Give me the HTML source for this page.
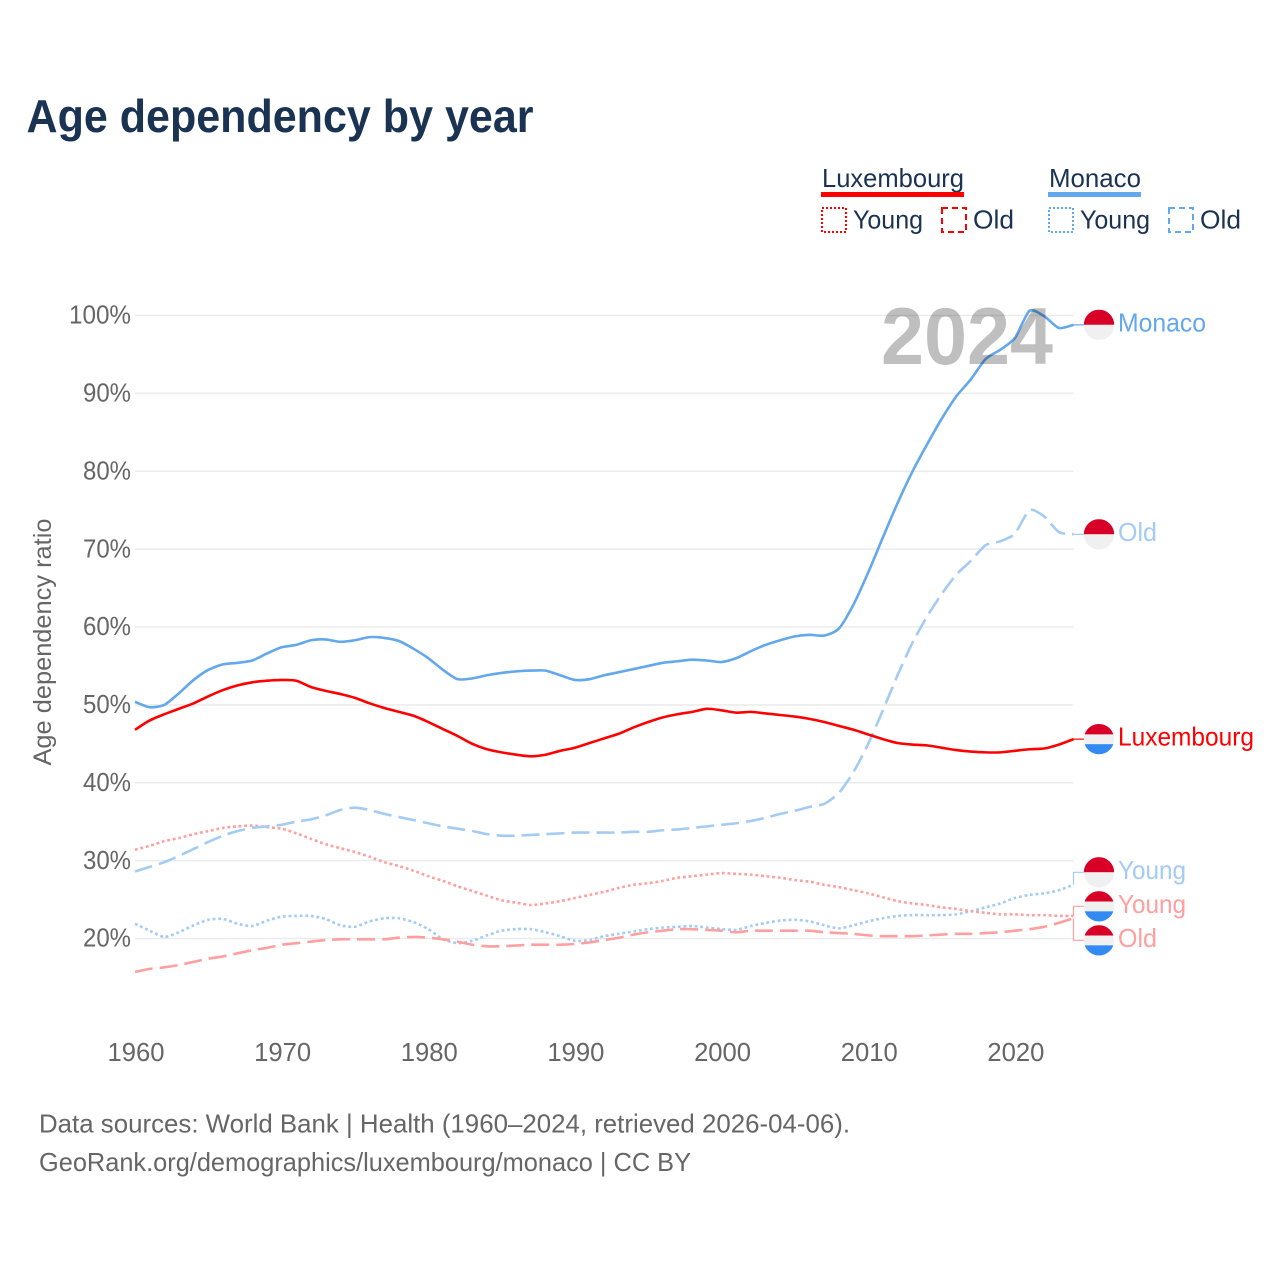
<!DOCTYPE html>
<html lang="en">
<head>
<meta charset="utf-8">
<title>Age dependency by year</title>
<style>
html,body{margin:0;padding:0;background:#fff;}
svg{display:block;}
text{font-family:"Liberation Sans",sans-serif;}
</style>
</head>
<body>
<svg id="chart" xmlns="http://www.w3.org/2000/svg" width="1280" height="1280" viewBox="0 0 1280 1280">
  <rect width="1280" height="1280" fill="#ffffff"/>
  <text x="26.5" y="132" font-size="46" font-weight="700" fill="#1a3352" textLength="507" lengthAdjust="spacingAndGlyphs">Age dependency by year</text>

  <g font-size="26" fill="#1a3352">
    <text x="822" y="187" textLength="142" lengthAdjust="spacingAndGlyphs">Luxembourg</text>
    <rect x="821" y="192" width="143" height="5" fill="#ff0000"/>
    <rect x="822" y="208" width="24" height="24" fill="none" stroke="#ff0000" stroke-width="2" stroke-dasharray="2 2"/>
    <text x="853" y="228.5" textLength="70" lengthAdjust="spacingAndGlyphs">Young</text>
    <rect x="942" y="208" width="24" height="24" fill="none" stroke="#ff0000" stroke-width="2" stroke-dasharray="6 4"/>
    <text x="973" y="228.5" textLength="41" lengthAdjust="spacingAndGlyphs">Old</text>
    <text x="1049" y="187" textLength="92" lengthAdjust="spacingAndGlyphs">Monaco</text>
    <rect x="1048" y="192" width="93" height="5" fill="#63a7ec"/>
    <rect x="1049" y="208" width="24" height="24" fill="none" stroke="#63a7ec" stroke-width="2" stroke-dasharray="2 2"/>
    <text x="1080" y="228.5" textLength="70" lengthAdjust="spacingAndGlyphs">Young</text>
    <rect x="1169" y="208" width="24" height="24" fill="none" stroke="#63a7ec" stroke-width="2" stroke-dasharray="6 4"/>
    <text x="1200" y="228.5" textLength="41" lengthAdjust="spacingAndGlyphs">Old</text>
  </g>

  <g id="grid"></g>
  <g id="yticks"></g>
  <g id="xticks"></g>
  <text transform="translate(51,642) rotate(-90)" text-anchor="middle" font-size="25" fill="#666666" textLength="247" lengthAdjust="spacingAndGlyphs">Age dependency ratio</text>
  <g id="series"></g>
  <g id="ends"></g>
  <text x="881" y="364" font-size="81" font-weight="700" fill="#000000" fill-opacity="0.25" textLength="172" lengthAdjust="spacingAndGlyphs">2024</text>

  <text x="39" y="1132.5" font-size="26" fill="#666666" textLength="811" lengthAdjust="spacingAndGlyphs">Data sources: World Bank | Health (1960–2024, retrieved 2026-04-06).</text>
  <text x="39" y="1171" font-size="26" fill="#666666" textLength="652" lengthAdjust="spacingAndGlyphs">GeoRank.org/demographics/luxembourg/monaco | CC BY</text>
</svg>
<script>
const startYear = 1960;
const xTickYears = [1960, 1970, 1980, 1990, 2000, 2010, 2020];
const yTickValues = [20, 30, 40, 50, 60, 70, 80, 90, 100];

const monacoTotal = [50.4,49.7,50.0,51.5,53.2,54.5,55.2,55.4,55.7,56.6,57.4,57.7,58.3,58.4,58.1,58.3,58.7,58.6,58.2,57.2,56.0,54.5,53.3,53.4,53.8,54.1,54.3,54.4,54.4,53.8,53.2,53.3,53.8,54.2,54.6,55.0,55.4,55.6,55.8,55.7,55.5,56.0,56.9,57.7,58.3,58.8,59.0,58.9,59.8,62.9,67.0,71.5,75.9,79.9,83.4,86.7,89.6,91.8,94.4,95.6,97.1,100.6,99.9,98.4,98.8];
const luxembourgTotal = [46.8,48.0,48.8,49.5,50.2,51.1,51.9,52.5,52.9,53.1,53.2,53.1,52.3,51.8,51.4,50.9,50.2,49.6,49.1,48.6,47.8,46.9,46.0,45.0,44.3,43.9,43.6,43.4,43.6,44.1,44.5,45.1,45.7,46.3,47.1,47.8,48.4,48.8,49.1,49.5,49.3,49.0,49.1,48.9,48.7,48.5,48.2,47.8,47.3,46.8,46.2,45.6,45.1,44.9,44.8,44.5,44.2,44.0,43.9,43.9,44.1,44.3,44.4,44.9,45.6];
const monacoOld = [28.6,29.2,29.8,30.6,31.5,32.4,33.2,33.8,34.2,34.4,34.6,35.0,35.3,35.8,36.5,36.8,36.5,36.0,35.6,35.2,34.8,34.4,34.1,33.8,33.4,33.2,33.2,33.3,33.4,33.5,33.6,33.6,33.6,33.6,33.7,33.7,33.9,34.0,34.2,34.4,34.6,34.8,35.1,35.5,36.0,36.4,36.9,37.3,38.7,41.4,45.0,49.3,53.8,57.9,61.3,64.2,66.7,68.5,70.5,71.0,72.0,75.0,74.2,72.2,71.9];
const monacoYoung = [21.9,21.0,20.2,20.8,21.7,22.4,22.5,21.9,21.6,22.3,22.8,22.9,22.9,22.5,21.7,21.5,22.2,22.6,22.6,22.1,21.2,19.9,19.4,19.7,20.4,21.0,21.2,21.2,20.8,20.3,19.7,19.8,20.3,20.6,20.9,21.2,21.4,21.5,21.6,21.4,21.2,21.1,21.6,22.0,22.3,22.4,22.2,21.7,21.3,21.7,22.2,22.6,22.9,23.0,23.0,23.0,23.1,23.5,24.0,24.5,25.2,25.6,25.8,26.2,26.9];
const luxembourgYoung = [31.4,31.9,32.5,32.9,33.4,33.8,34.2,34.4,34.5,34.3,34.1,33.5,32.8,32.1,31.6,31.1,30.5,29.8,29.3,28.7,28.0,27.4,26.7,26.1,25.5,24.9,24.6,24.3,24.5,24.8,25.2,25.6,26.0,26.5,26.9,27.1,27.4,27.8,28.0,28.2,28.4,28.3,28.2,28.0,27.8,27.5,27.3,26.9,26.6,26.2,25.8,25.3,24.8,24.5,24.3,24.0,23.8,23.5,23.3,23.1,23.1,23.0,23.0,22.9,22.9];
const luxembourgOld = [15.7,16.1,16.3,16.6,17.0,17.4,17.7,18.1,18.5,18.8,19.2,19.4,19.6,19.8,19.9,19.9,19.9,19.9,20.1,20.2,20.1,19.9,19.6,19.2,19.0,19.0,19.1,19.2,19.2,19.2,19.3,19.5,19.8,20.1,20.5,20.8,21.0,21.2,21.2,21.1,21.0,20.8,21.0,21.0,21.0,21.0,21.0,20.8,20.7,20.6,20.4,20.3,20.3,20.3,20.4,20.5,20.6,20.6,20.7,20.8,21.0,21.2,21.5,22.0,22.6];

const NS = 'http://www.w3.org/2000/svg';
function xScale(year) { return 135 + (year - 1960) * (1073.5 - 135) / 64; }
function yScale(v) { return 938.5 - (v - 20) * 7.7875; }
function mk(parent, tag, attrs, txt) {
  const el = document.createElementNS(NS, tag);
  for (const k in attrs) el.setAttribute(k, attrs[k]);
  if (txt !== undefined) el.textContent = txt;
  parent.appendChild(el);
  return el;
}
/* Lightly smoothed path through the data points (Catmull-Rom to Bezier). */
function smoothPath(values) {
  const pts = values.map(function (v, i) { return [xScale(startYear + i), yScale(v)]; });
  const k = 0.12;
  let d = 'M' + pts[0][0].toFixed(2) + ',' + pts[0][1].toFixed(2);
  for (let i = 0; i < pts.length - 1; i++) {
    const p0 = pts[Math.max(i - 1, 0)], p1 = pts[i], p2 = pts[i + 1], p3 = pts[Math.min(i + 2, pts.length - 1)];
    const c1x = p1[0] + (p2[0] - p0[0]) * k, c1y = p1[1] + (p2[1] - p0[1]) * k;
    const c2x = p2[0] - (p3[0] - p1[0]) * k, c2y = p2[1] - (p3[1] - p1[1]) * k;
    d += 'C' + c1x.toFixed(2) + ',' + c1y.toFixed(2) + ' ' + c2x.toFixed(2) + ',' + c2y.toFixed(2) + ' ' + p2[0].toFixed(2) + ',' + p2[1].toFixed(2);
  }
  return d;
}

const gridG = document.getElementById('grid');
const yG = document.getElementById('yticks');
const xG = document.getElementById('xticks');
const seriesG = document.getElementById('series');
const endsG = document.getElementById('ends');

yTickValues.forEach(function (v) {
  const ln = mk(gridG, 'line', {x1: 135, x2: 1073.5, y1: yScale(v), y2: yScale(v), stroke: '#ebebeb', 'stroke-width': 1.6});
  
  
  const label = v + '%';
  const t = mk(yG, 'text', {x: 131, y: yScale(v) + 8.2, 'text-anchor': 'end', 'font-size': 25.5, fill: '#666666', textLength: label.length === 4 ? 62 : 48, lengthAdjust: 'spacingAndGlyphs'}, label);
  
  
});

xTickYears.forEach(function (yr) {
  const t = mk(xG, 'text', {x: xScale(yr) + 1, y: 1061, 'text-anchor': 'middle', 'font-size': 25.5, fill: '#666666', textLength: 57, lengthAdjust: 'spacingAndGlyphs'}, String(yr));
  
  
});

const seriesDefs = [
  {key: 'monaco-young', values: monacoYoung, color: '#a3cbf3', dash: '2.8 2.8', flag: 'mc', label: 'Young', w: 68},
  {key: 'luxembourg-young', values: luxembourgYoung, color: '#ff9f9f', dash: '2.8 2.8', flag: 'lu', label: 'Young', w: 68},
  {key: 'monaco-old', values: monacoOld, color: '#a3cbf3', dash: '18 7', flag: 'mc', label: 'Old', w: 39},
  {key: 'luxembourg-old', values: luxembourgOld, color: '#ff9f9f', dash: '18 7', flag: 'lu', label: 'Old', w: 39},
  {key: 'monaco-total', values: monacoTotal, color: '#63a7ec', dash: '', flag: 'mc', label: 'Monaco', w: 88},
  {key: 'luxembourg-total', values: luxembourgTotal, color: '#ff0000', dash: '', flag: 'lu', label: 'Luxembourg', w: 136}
];

seriesDefs.forEach(function (s) {
  const attrs = {d: smoothPath(s.values), fill: 'none', stroke: s.color, 'stroke-width': 2.6, 'stroke-linejoin': 'round'};
  if (s.dash) attrs['stroke-dasharray'] = s.dash;
  const p = mk(seriesG, 'path', attrs);
  
  
  s.endY = yScale(s.values[s.values.length - 1]);
});

/* Spread end labels so that neighbours stay at least one flag-height apart. */
const GAP = 34;
const order = seriesDefs.slice().sort(function (a, b) { return a.endY - b.endY; });
let clusters = order.map(function (s) { return {items: [s], mean: s.endY}; });
let merged = true;
while (merged) {
  merged = false;
  for (let i = 0; i < clusters.length - 1; i++) {
    const a = clusters[i], b = clusters[i + 1];
    const aBottom = a.mean + (a.items.length - 1) * GAP / 2;
    const bTop = b.mean - (b.items.length - 1) * GAP / 2;
    if (bTop - aBottom < GAP) {
      const items = a.items.concat(b.items);
      const mean = items.reduce(function (t, s) { return t + s.endY; }, 0) / items.length;
      clusters.splice(i, 2, {items: items, mean: mean});
      merged = true;
      break;
    }
  }
}
clusters.forEach(function (c) {
  c.items.forEach(function (s, i) {
    s.labelY = c.mean + (i - (c.items.length - 1) / 2) * GAP;
  });
});

const defs = mk(endsG, 'defs', {});
seriesDefs.forEach(function (s) {
  const cx = 1099, cy = s.labelY, r = 15.2, x0 = xScale(2024);
  const conn = mk(endsG, 'path', {d: 'M' + x0 + ',' + s.endY + 'V' + cy + 'H' + (cx - r + 2), fill: 'none', stroke: s.color, 'stroke-width': 1.2});
  
  

  const clip = mk(defs, 'clipPath', {id: 'clip-' + s.key});
  mk(clip, 'circle', {cx: cx, cy: cy, r: r});

  const flag = mk(endsG, 'g', {'clip-path': 'url(#clip-' + s.key + ')'});
  
  
  const bands = s.flag === 'mc'
    ? [['#d80027', 0, 0.5], ['#f0f0f0', 0.5, 0.5]]
    : [['#d80027', 0, 0.345], ['#f0f0f0', 0.345, 0.32], ['#338af3', 0.665, 0.335]];
  bands.forEach(function (b) {
    mk(flag, 'rect', {x: cx - r, y: cy - r + b[1] * 2 * r, width: 2 * r, height: b[2] * 2 * r, fill: b[0]});
  });

  const t = mk(endsG, 'text', {x: 1118, y: cy + 6.5, 'font-size': 26, fill: s.color, textLength: s.w, lengthAdjust: 'spacingAndGlyphs'}, s.label);
  
  
});
</script>
</body>
</html>
